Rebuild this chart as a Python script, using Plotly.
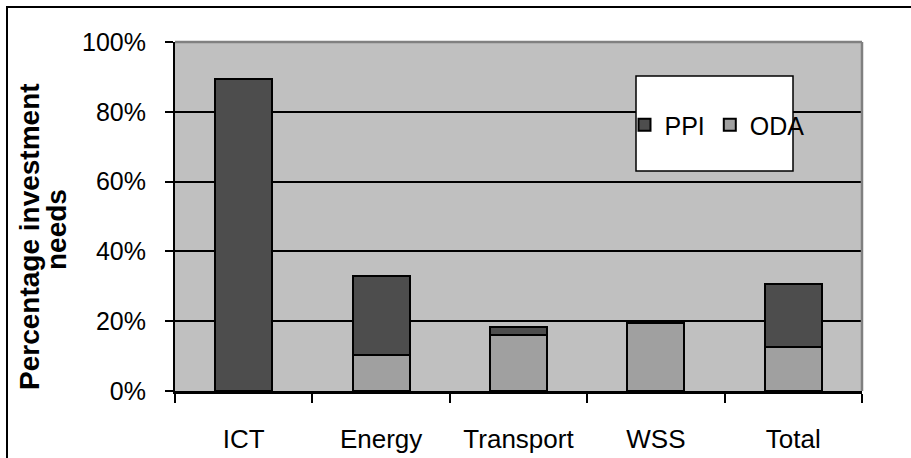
import plotly.graph_objects as go

# Share of infrastructure investment needs by sector
sectors = ["ICT", "Energy", "Transport", "WSS", "Total"]
oda_share = [0.0, 0.104, 0.160, 0.194, 0.125]
ppi_share = [0.895, 0.226, 0.023, 0.003, 0.182]

PPI_COLOR = "#4d4d4d"
ODA_COLOR = "#a0a0a0"
FONT = "Liberation Sans, Arial, sans-serif"

fig = go.Figure()
fig.add_trace(go.Bar(
    name="ODA", x=sectors, y=oda_share,
    marker=dict(color=ODA_COLOR, line=dict(color="black", width=2)),
))
fig.add_trace(go.Bar(
    name="PPI", x=sectors, y=ppi_share,
    marker=dict(color=PPI_COLOR, line=dict(color="black", width=2)),
))

# pixel -> paper helpers for the fixed 911x458 canvas
L, R, T, B = 175, 862, 42, 391
def px(x):
    return (x - L) / (R - L)
def py(y):
    return (B - y) / (B - T)

shapes = [
    # outer chart frame
    dict(type="rect", xref="paper", yref="paper",
         x0=px(7), x1=px(930), y0=py(480), y1=py(7),
         line=dict(color="black", width=2), fillcolor="rgba(0,0,0,0)", layer="above"),
    # plot area border (top and right)
    dict(type="line", xref="paper", yref="paper", x0=0, x1=1, y0=1, y1=1,
         line=dict(color="#808080", width=2.5), layer="above"),
    dict(type="line", xref="paper", yref="paper", x0=1, x1=1, y0=0, y1=1,
         line=dict(color="#808080", width=2.5), layer="above"),
    # legend box
    dict(type="rect", xref="paper", yref="paper",
         x0=px(636), x1=px(793), y0=py(171), y1=py(76),
         line=dict(color="black", width=1.5), fillcolor="white", layer="above"),
]

title_font = dict(family=FONT, size=28, color="black")

fig.update_layout(
    width=911, height=458,
    margin=dict(l=L, r=911 - R, t=T, b=458 - B, autoexpand=False),
    barmode="stack",
    bargap=0.585,
    paper_bgcolor="white",
    plot_bgcolor="#c0c0c0",
    font=dict(family=FONT, size=25, color="black"),
    showlegend=True,
    legend=dict(
        orientation="h", traceorder="reversed",
        x=px(717), y=py(125), xanchor="center", yanchor="middle",
        bgcolor="rgba(0,0,0,0)", borderwidth=0,
        font=dict(family=FONT, size=25, color="black"),
        itemwidth=30,
    ),
    xaxis=dict(
        automargin=False,
        showline=True, linecolor="black", linewidth=2.5,
        ticks="outside", ticklen=9, tickwidth=2, tickcolor="black",
        tickson="boundaries", showgrid=False,
        ticklabelstandoff=23,
        tickfont=dict(family=FONT, size=26),
    ),
    yaxis=dict(
        automargin=False,
        range=[0, 1], dtick=0.2, tickformat=".0%",
        showline=True, linecolor="black", linewidth=2,
        ticks="outside", ticklen=8, tickwidth=2, tickcolor="black",
        showgrid=True, gridcolor="black", gridwidth=2,
        zeroline=False,
        ticklabelstandoff=14,
        tickfont=dict(family=FONT, size=25),
    ),
    shapes=shapes,
    annotations=[
        dict(text="<b>Percentage investment</b>",
             xref="paper", yref="paper", x=px(29), y=py(237),
             xanchor="center", yanchor="middle", textangle=-90,
             showarrow=False, font=title_font),
        dict(text="<b>needs</b>",
             xref="paper", yref="paper", x=px(56), y=py(230),
             xanchor="center", yanchor="middle", textangle=-90,
             showarrow=False, font=title_font),
    ],
)

fig.write_html("out.html")
